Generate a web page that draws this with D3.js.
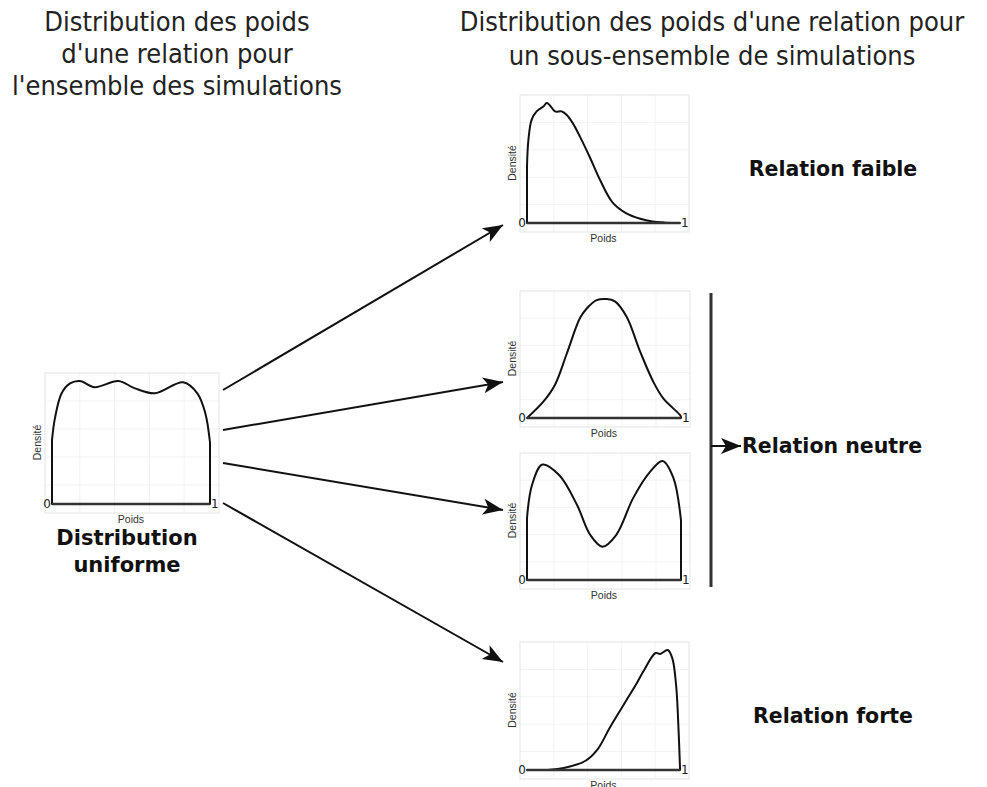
<!DOCTYPE html>
<html>
<head>
<meta charset="utf-8">
<script src="https://cdn.jsdelivr.net/npm/d3@7"></script>
<style>
  body { margin: 0; background: #fff; }
</style>
</head>
<body>
<div id="chart"></div>
<script>
// Density samples: poids (0..1) and relative density (peak = 1)
const poidsUniforme = [0, 0.019, 0.061, 0.114, 0.177, 0.27, 0.42, 0.525, 0.65, 0.83, 0.92, 0.97, 1];
const densiteUniforme = [0.52, 0.7, 0.9, 0.98, 1.0, 0.95, 1.0, 0.94, 0.9, 0.99, 0.9, 0.74, 0.5];

const poidsFaible = [0, 0.009, 0.03, 0.063, 0.107, 0.129, 0.15, 0.183, 0.227, 0.26, 0.3, 0.346, 0.41, 0.477, 0.56, 0.65, 0.74, 0.82, 0.9, 1];
const densiteFaible = [0.47, 0.69, 0.86, 0.93, 0.97, 1.0, 0.98, 0.93, 0.93, 0.9, 0.83, 0.72, 0.55, 0.36, 0.17, 0.08, 0.035, 0.012, 0.003, 0];

const poidsNeutre = [0, 0.106, 0.182, 0.258, 0.344, 0.388, 0.452, 0.517, 0.571, 0.647, 0.734, 0.82, 0.885, 0.994, 1];
const densiteNeutre = [0.0, 0.137, 0.28, 0.54, 0.84, 0.92, 0.99, 1.0, 0.98, 0.85, 0.56, 0.305, 0.165, 0.025, 0.01];

const poidsBimodal = [0, 0.033, 0.1, 0.21, 0.325, 0.41, 0.49, 0.58, 0.69, 0.8, 0.88, 0.95, 1];
const densiteBimodal = [0.52, 0.8, 0.97, 0.88, 0.63, 0.38, 0.28, 0.38, 0.69, 0.91, 1.0, 0.86, 0.5];

const poidsForte = [0, 0.15, 0.24, 0.38, 0.46, 0.54, 0.63, 0.72, 0.76, 0.84, 0.87, 0.92, 0.95, 0.975, 0.99, 1];
const densiteForte = [0, 0.002, 0.017, 0.075, 0.17, 0.35, 0.54, 0.73, 0.82, 0.975, 0.967, 1.0, 0.93, 0.7, 0.35, 0.02];

const titreGauche = ["Distribution des poids", "d'une relation pour", "l'ensemble des simulations"];
const titreDroite = ["Distribution des poids d'une relation pour", "un sous-ensemble de simulations"];
const etiquetteUniforme = ["Distribution", "uniforme"];
const relations = ["Relation faible", "Relation neutre", "Relation forte"];

// Colours
const ink = "#111";
const axisInk = "#333";
const frameColor = "#e4e4e4";
const gridColor = "#f3f3f3";

const width = 987;
const height = 787;

// Panel placement: plot left, baseline, plot width, plot height
const panels = [
  { poids: poidsUniforme, densite: densiteUniforme, x: 52, base: 504, w: 158, h: 123 },
  { poids: poidsFaible, densite: densiteFaible, x: 527, base: 223, w: 153, h: 120 },
  { poids: poidsNeutre, densite: densiteNeutre, x: 527, base: 418, w: 154, h: 119 },
  { poids: poidsBimodal, densite: densiteBimodal, x: 527, base: 580, w: 154, h: 119 },
  { poids: poidsForte, densite: densiteForte, x: 527, base: 770, w: 153, h: 120 }
];

const svg = d3.select("#chart")
  .append("svg")
  .attr("width", width)
  .attr("height", height)
  .style("font-family", "'DejaVu Sans', sans-serif");

const defs = svg.append("defs");
defs.append("marker")
  .attr("id", "head")
  .attr("markerUnits", "userSpaceOnUse")
  .attr("viewBox", "-22 -10 24 20")
  .attr("markerWidth", 24)
  .attr("markerHeight", 20)
  .attr("refX", 0)
  .attr("refY", 0)
  .attr("orient", "auto")
  .append("path")
  .attr("d", "M0,0 L-20,-8 L-15,0 L-20,8 Z")
  .attr("fill", ink);

/*
Draw one density panel: faint frame, curve closed on the baseline, 0/1 ticks and axis labels.
*/
function drawPanel(p) {
  const g = svg.append("g");
  const xScale = d3.scaleLinear().domain([0, 1]).range([p.x, p.x + p.w]);
  const yScale = d3.scaleLinear().domain([0, 1]).range([p.base, p.base - p.h]);

  // faint background frame and grid
  const fx = p.x - 7, fy = p.base - p.h - 8, fw = p.w + 16, fh = p.h + 17;
  g.selectAll("line.grid")
    .data(d3.range(1, 5))
    .enter()
    .append("line")
    .attr("x1", d => fx + d * fw / 5)
    .attr("x2", d => fx + d * fw / 5)
    .attr("y1", fy)
    .attr("y2", fy + fh)
    .attr("stroke", gridColor);
  g.selectAll("line.gridh")
    .data(d3.range(1, 5))
    .enter()
    .append("line")
    .attr("x1", fx)
    .attr("x2", fx + fw)
    .attr("y1", d => fy + d * fh / 5)
    .attr("y2", d => fy + d * fh / 5)
    .attr("stroke", gridColor);
  g.append("rect")
    .attr("x", fx)
    .attr("y", fy)
    .attr("width", fw)
    .attr("height", fh)
    .attr("fill", "none")
    .attr("stroke", frameColor);

  const pts = p.poids.map((v, i) => [v, p.densite[i]]);
  const area = d3.area()
    .x(d => xScale(d[0]))
    .y0(yScale(0))
    .y1(d => Math.min(yScale(0), yScale(d[1])))
    .curve(d3.curveCatmullRom.alpha(0.5));

  g.append("path")
    .attr("d", area(pts))
    .attr("fill", "none")
    .attr("stroke", ink)
    .attr("stroke-width", 2)
    .attr("stroke-linejoin", "round");

  // baseline a bit heavier
  g.append("line")
    .attr("x1", xScale(0))
    .attr("x2", xScale(1))
    .attr("y1", yScale(0))
    .attr("y2", yScale(0))
    .attr("stroke", axisInk)
    .attr("stroke-width", 2.5);

  g.append("text")
    .text("0")
    .attr("x", xScale(0) - 1)
    .attr("y", yScale(0) + 4)
    .attr("text-anchor", "end")
    .attr("font-size", "12px")
    .attr("fill", "#222");
  g.append("text")
    .text("1")
    .attr("x", xScale(1) + 1)
    .attr("y", yScale(0) + 4)
    .attr("font-size", "12px")
    .attr("fill", "#222");

  g.append("text")
    .text("Poids")
    .attr("x", xScale(0.5))
    .attr("y", yScale(0) + 19)
    .attr("text-anchor", "middle")
    .attr("font-family", "'Liberation Sans', Arial, sans-serif")
    .attr("font-size", "10.5px")
    .attr("fill", "#333");
  g.append("text")
    .text("Densité")
    .attr("transform", `translate(${p.x - 11},${yScale(0.5)}) rotate(-90)`)
    .attr("text-anchor", "middle")
    .attr("font-family", "'Liberation Sans', Arial, sans-serif")
    .attr("font-size", "10.5px")
    .attr("fill", "#333");
}

panels.forEach(drawPanel);

// Arrows from the uniform panel to each subset panel
const arrows = [
  [223, 390, 503, 225],
  [223, 430, 503, 382],
  [223, 463, 503, 510],
  [223, 503, 503, 662]
];
svg.selectAll("line.arrow")
  .data(arrows)
  .enter()
  .append("line")
  .attr("x1", d => d[0])
  .attr("y1", d => d[1])
  .attr("x2", d => d[2])
  .attr("y2", d => d[3])
  .attr("stroke", ink)
  .attr("stroke-width", 2)
  .attr("marker-end", "url(#head)");

// Bracket for the neutral group
svg.append("line")
  .attr("x1", 711).attr("x2", 711)
  .attr("y1", 293).attr("y2", 587)
  .attr("stroke", axisInk)
  .attr("stroke-width", 3);
svg.append("line")
  .attr("x1", 711).attr("x2", 741)
  .attr("y1", 446).attr("y2", 446)
  .attr("stroke", ink)
  .attr("stroke-width", 2)
  .attr("marker-end", "url(#head)");

// Titles
const titleFont = "'DejaVu Sans Condensed', 'DejaVu Sans', sans-serif";
svg.selectAll("text.tg")
  .data(titreGauche)
  .enter()
  .append("text")
  .attr("class", "tg")
  .text(d => d)
  .attr("x", 177)
  .attr("y", (d, i) => 31 + i * 32)
  .attr("text-anchor", "middle")
  .attr("font-family", titleFont)
  .attr("font-size", "27px")
  .attr("fill", "#222");
svg.selectAll("text.td")
  .data(titreDroite)
  .enter()
  .append("text")
  .attr("class", "td")
  .text(d => d)
  .attr("x", 712)
  .attr("y", (d, i) => 31 + i * 34)
  .attr("text-anchor", "middle")
  .attr("font-family", titleFont)
  .attr("font-size", "27px")
  .attr("fill", "#222");

// Bold labels
svg.selectAll("text.lu")
  .data(etiquetteUniforme)
  .enter()
  .append("text")
  .attr("class", "lu")
  .text(d => d)
  .attr("x", 127)
  .attr("y", (d, i) => 545 + i * 27)
  .attr("text-anchor", "middle")
  .attr("font-weight", "bold")
  .attr("font-size", "21px")
  .attr("fill", ink);

const relPos = [[833, 176, "middle"], [742, 453, "start"], [833, 723, "middle"]];
svg.selectAll("text.rel")
  .data(relations)
  .enter()
  .append("text")
  .attr("class", "rel")
  .text(d => d)
  .attr("x", (d, i) => relPos[i][0])
  .attr("y", (d, i) => relPos[i][1])
  .attr("text-anchor", (d, i) => relPos[i][2])
  .attr("font-weight", "bold")
  .attr("font-size", "20.5px")
  .attr("fill", ink);
</script>
</body>
</html>
